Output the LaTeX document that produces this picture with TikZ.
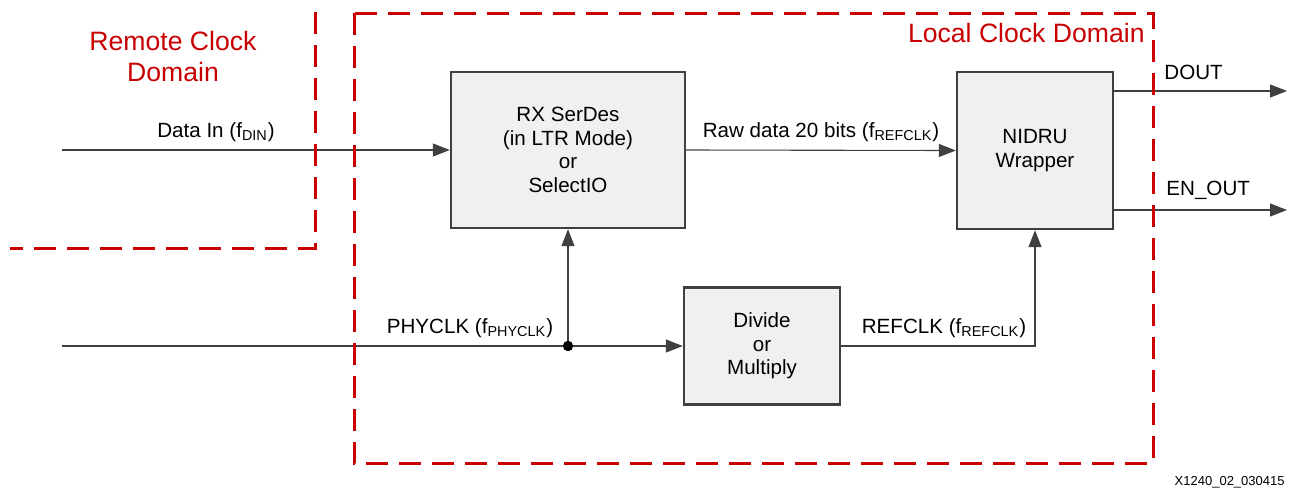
\documentclass[tikz,border=0pt]{standalone}
\usepackage{fontspec}
\setmainfont{Liberation Sans}
\usetikzlibrary{arrows.meta,positioning}
\definecolor{linegray}{RGB}{64,64,64}
\definecolor{domred}{RGB}{200,0,0}
\definecolor{boxfill}{RGB}{240,240,240}
\newcommand{\fsub}[1]{(f\textsubscript{#1})}

\begin{document}
\begin{tikzpicture}[x=0.5pt,y=-0.5pt,
    block/.style={draw=linegray,line width=1.2pt,fill=boxfill,align=center,inner sep=0pt,
                  font=\fontsize{10.3}{11.8}\selectfont},
    sig/.style={draw=linegray,line width=0.55pt,-{Triangle[length=8.5pt,width=6.5pt]}},
    lbl/.style={font=\fontsize{10.3}{12}\selectfont,inner sep=0pt,anchor=base},
    domainbox/.style={draw=domred,line width=1.5pt,dash pattern=on 11pt off 5.5pt},
    domlbl/.style={text=domred,font=\fontsize{13.3}{15.5}\selectfont,inner sep=0pt,align=center}]
    \useasboundingbox (0,0) rectangle (1289,488);
    % Blocks
    \node[block,minimum width=117pt,minimum height=78pt] (rx) at (568,150)
        {RX SerDes\\(in LTR Mode)\\or\\SelectIO};
    \node[block,minimum width=78pt,minimum height=78.5pt] (nidru) at (1035,150.5)
        {NIDRU\\Wrapper};
    \node[block,minimum width=78pt,minimum height=58.5pt] (div) at (762,346)
        {Divide\\or\\Multiply};
    % Free ends and the tap point
    \coordinate (din) at (62,150);
    \coordinate (phy) at (62,346);
    \coordinate (tap) at (568,346);
    \coordinate (dout) at (1287,91);
    \coordinate (enout) at (1287,210);
    % Signals
    \draw[sig] (din) -- (rx.west);
    \draw[sig] (phy) -- (div.west);
    \draw[sig] (tap) -- (rx.south);
    \fill[black] (tap) circle (2.6pt);
    \draw[sig] (rx.east) -- (nidru.west);
    \draw[sig] (div.east) -| (nidru.south);
    \draw[sig] (nidru.east |- dout) -- (dout);
    \draw[sig] (nidru.east |- enout) -- (enout);
    % Signal names
    \node[lbl] (dinlbl) at (216,137) {Data In \fsub{DIN}};
    \node[lbl] (rawlbl) at (821,137) {Raw data 20 bits \fsub{REFCLK}};
    \node[lbl] (phylbl) at (470,333) {PHYCLK \fsub{PHYCLK}};
    \node[lbl] (reflbl) at (944,333) {REFCLK \fsub{REFCLK}};
    \node[lbl,anchor=base west] (doutlbl) at (1164,79) {DOUT};
    \node[lbl,anchor=base west] (enlbl) at (1166,195) {EN\_OUT};
    % Clock domains
    \draw[domainbox] (315,12) -- (315,248) -- (10,248);
    \draw[domainbox] (354,13) rectangle (1153,463);
    \node[domlbl] (remote) at (173,56) {Remote Clock\\Domain};
    \node[domlbl,anchor=base east] (local) at (1145,42) {Local Clock Domain};
    % Figure number
    \node[inner sep=0pt,anchor=base east,font=\fontsize{6.5}{7}\selectfont] (fignum) at (1285,485)
        {X1240\_02\_030415};
\end{tikzpicture}
\end{document}
